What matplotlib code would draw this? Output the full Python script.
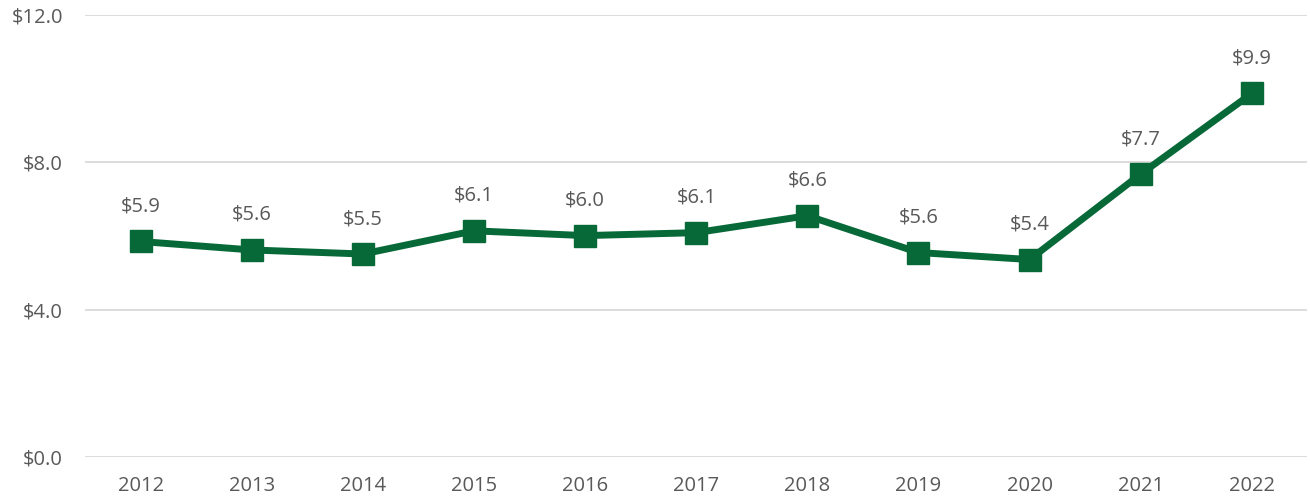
import matplotlib.pyplot as plt

plt.rcParams['font.family'] = ['Open Sans', 'DejaVu Sans']

years = ['2012', '2013', '2014', '2015', '2016', '2017', '2018', '2019', '2020', '2021', '2022']
values = [5.85, 5.62, 5.51, 6.14, 6.01, 6.09, 6.55, 5.55, 5.36, 7.68, 9.87]
labels = ['$5.9', '$5.6', '$5.5', '$6.1', '$6.0', '$6.1', '$6.6', '$5.6', '$5.4', '$7.7', '$9.9']
yticks = [0, 4, 8, 12]

green = '#076937'
grey = '#595959'

fig = plt.figure(figsize=(13.1, 5.01), dpi=100)
ax = fig.add_axes([0.065, 0.088, 0.933, 0.882])

x = list(range(len(years)))
ax.plot(x, values, color=green, lw=5, marker='s', ms=16, zorder=3)
for xi, v, lab in zip(x, values, labels):
    ax.annotate(lab, (xi, v), xytext=(0, 18), textcoords='offset points',
                ha='center', va='bottom', fontsize=14.5, color=grey)

ax.set_xlim(-0.5, len(years) - 0.5)
ax.set_ylim(0, 12)
ax.set_yticks(yticks)
ax.set_yticklabels(['$%.1f' % t for t in yticks])
ax.set_xticks(x)
ax.set_xticklabels(years)
ax.grid(axis='y', color='#d9d9d9', lw=1.3)
ax.set_axisbelow(True)
for s in ax.spines.values():
    s.set_visible(False)
ax.tick_params(length=0, labelsize=14.5, colors=grey)
ax.tick_params(axis='y', pad=16)
ax.tick_params(axis='x', pad=14)

fig.savefig('out.png', dpi=100)
